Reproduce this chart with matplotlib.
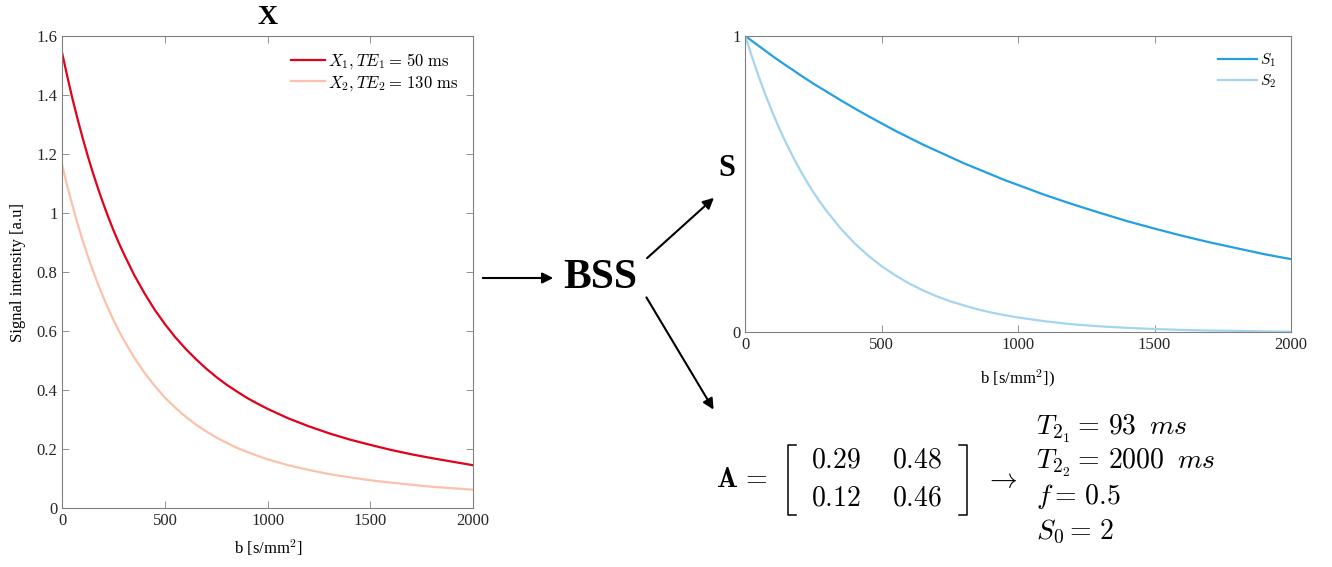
import matplotlib
matplotlib.use("Agg")
import matplotlib.pyplot as plt
from matplotlib.lines import Line2D
from matplotlib.patches import FancyArrowPatch

# b-values [s/mm^2]
b_vals = [0, 25, 50, 75, 100, 125, 150, 175, 200, 225, 250, 275, 300,
          350, 400, 450, 500, 550, 600, 650, 700, 750, 800, 850, 900, 950,
          1000, 1100, 1200, 1300, 1400, 1500, 1600, 1700, 1800, 1900, 2000]

# mixtures X (left panel)
x1_te50 = [1.540, 1.461, 1.386, 1.317, 1.252, 1.191, 1.134, 1.081, 1.031,
           0.984, 0.940, 0.899, 0.861, 0.790, 0.728, 0.672, 0.623, 0.579,
           0.540, 0.505, 0.473, 0.444, 0.418, 0.395, 0.373, 0.354, 0.336,
           0.304, 0.277, 0.253, 0.232, 0.214, 0.197, 0.182, 0.169, 0.157,
           0.145]
x2_te130 = [1.160, 1.089, 1.024, 0.962, 0.905, 0.852, 0.803, 0.757, 0.714,
            0.674, 0.636, 0.601, 0.569, 0.510, 0.459, 0.414, 0.374, 0.340,
            0.310, 0.283, 0.260, 0.239, 0.221, 0.204, 0.190, 0.177, 0.165,
            0.145, 0.129, 0.115, 0.104, 0.094, 0.086, 0.079, 0.072, 0.067,
            0.062]

# separated sources S (right panel)
s1 = [1.000, 0.983, 0.966, 0.949, 0.932, 0.916, 0.900, 0.885, 0.869, 0.854,
      0.839, 0.825, 0.811, 0.783, 0.756, 0.730, 0.705, 0.680, 0.657, 0.634,
      0.613, 0.592, 0.571, 0.552, 0.533, 0.514, 0.497, 0.463, 0.432, 0.403,
      0.375, 0.350, 0.326, 0.304, 0.284, 0.264, 0.247]
s2 = [1.000, 0.928, 0.861, 0.799, 0.741, 0.687, 0.638, 0.592, 0.549, 0.509,
      0.472, 0.438, 0.407, 0.350, 0.301, 0.259, 0.223, 0.192, 0.165, 0.142,
      0.122, 0.105, 0.091, 0.078, 0.067, 0.058, 0.050, 0.037, 0.027, 0.020,
      0.015, 0.011, 0.008, 0.006, 0.005, 0.003, 0.002]

mix_matrix = [["0.29", "0.48"], ["0.12", "0.46"]]
params = [r"$T_{2_1} =\, 93\;\;ms$", r"$T_{2_2} =\, 2000\;\;ms$",
          r"$f =\, 0.5$", r"$S_0 =\, 2$"]

W, H = 1332, 567
plt.rcParams["font.family"] = "serif"
plt.rcParams["font.serif"] = ["Liberation Serif", "DejaVu Serif"]
plt.rcParams["mathtext.fontset"] = "cm"


def fx(x):
    return x / W


def fy(y):
    return 1 - y / H


def style_axes(ax):
    for sp in ax.spines.values():
        sp.set_color("#808080")
        sp.set_linewidth(0.8)
    ax.tick_params(direction="in", length=5, width=0.6, color="#808080",
                   labelcolor="#262626", labelsize=12, top=True, right=True)


fig = plt.figure(figsize=(W / 100, H / 100), dpi=100)

# left panel
ax1 = fig.add_axes([fx(62.3), fy(508), fx(473) - fx(62.3), fy(36) - fy(508)])
ax1.plot(b_vals, x1_te50, color="#E2001A", lw=1.6,
         label=r"$X_1, TE_1 =\, 50\ \mathrm{ms}$")
ax1.plot(b_vals, x2_te130, color="#FCC1AA", lw=1.6,
         label=r"$X_2, TE_2 =\, 130\ \mathrm{ms}$")
ax1.set_xlim(0, 2000)
ax1.set_ylim(0, 1.6)
ax1.set_xticks([0, 500, 1000, 1500, 2000])
yt = [0, 0.2, 0.4, 0.6, 0.8, 1.0, 1.2, 1.4, 1.6]
ax1.set_yticks(yt)
ax1.set_yticklabels([f"{v:g}" for v in yt])
style_axes(ax1)
ax1.legend(loc="upper right", frameon=False, fontsize=12, handlelength=2.0,
           handletextpad=0.2, labelspacing=0.15, borderaxespad=0.5)

fig.text(fx(268), fy(17), "X", ha="center", va="center", fontsize=20,
         fontweight="bold")
fig.text(fx(268), fy(548), r"b [s/mm$^2$]", ha="center", va="center",
         fontsize=12)
fig.text(fx(18), fy(272), "Signal intensity [a.u]", ha="center",
         va="center", rotation=90, fontsize=12)

# right panel
ax2 = fig.add_axes([fx(745.3), fy(332.3), fx(1291) - fx(745.3),
                    fy(36) - fy(332.3)])
ax2.plot(b_vals, s1, color="#23A0E4", lw=1.6, label=r"$S_1$")
ax2.plot(b_vals, s2, color="#A5D4EE", lw=1.6, label=r"$S_2$")
ax2.set_xlim(0, 2000)
ax2.set_ylim(0, 1)
ax2.set_xticks([0, 500, 1000, 1500, 2000])
ax2.set_yticks([0, 1])
ax2.set_yticklabels(["0", "1"])
style_axes(ax2)
ax2.legend(loc="upper right", frameon=False, fontsize=11, handlelength=2.5,
           handletextpad=0.2, labelspacing=0.2, borderaxespad=0.6)
fig.text(fx(1018), fy(378), r"b [s/mm$^2$])", ha="center", va="center",
         fontsize=12)
fig.text(fx(727), fy(168), "S", ha="center", va="center", fontsize=22,
         fontweight="bold")

# BSS block with arrows
fig.text(fx(600), fy(278), "BSS", ha="center", va="center", fontsize=30,
         fontweight="bold")
arrows = [((480, 278), (556, 278)), ((645, 260), (716, 196)),
          ((645, 295), (715, 412))]
for (xa, ya), (xb, yb) in arrows:
    fig.add_artist(FancyArrowPatch((fx(xa), fy(ya)), (fx(xb), fy(yb)),
                                   transform=fig.transFigure,
                                   arrowstyle="-|>", mutation_scale=16,
                                   lw=1.5, color="k"))

# mixing matrix
fig.text(fx(716), fy(487), r"$\mathbf{A}\,=$", ha="left", va="baseline",
         fontsize=20)
row_base = [468, 505]
col_left = [811, 892]
for r, row in enumerate(mix_matrix):
    for c, val in enumerate(row):
        fig.text(fx(col_left[c]), fy(row_base[r]), f"${val}$", ha="left",
                 va="baseline", fontsize=20)
top, bot = 445, 515
for xv, xs in [(788, 796), (967, 959)]:
    fig.add_artist(Line2D([fx(xs), fx(xv), fx(xv), fx(xs)],
                          [fy(top), fy(top), fy(bot), fy(bot)],
                          transform=fig.transFigure, color="k", lw=1.1))
fig.text(fx(985), fy(480), r"$\rightarrow$", ha="left", va="center",
         fontsize=20)
for i, base in enumerate([435, 469, 504, 539]):
    fig.text(fx(1036), fy(base), params[i], ha="left", va="baseline",
             fontsize=20)

fig.savefig("out.png", dpi=100)
